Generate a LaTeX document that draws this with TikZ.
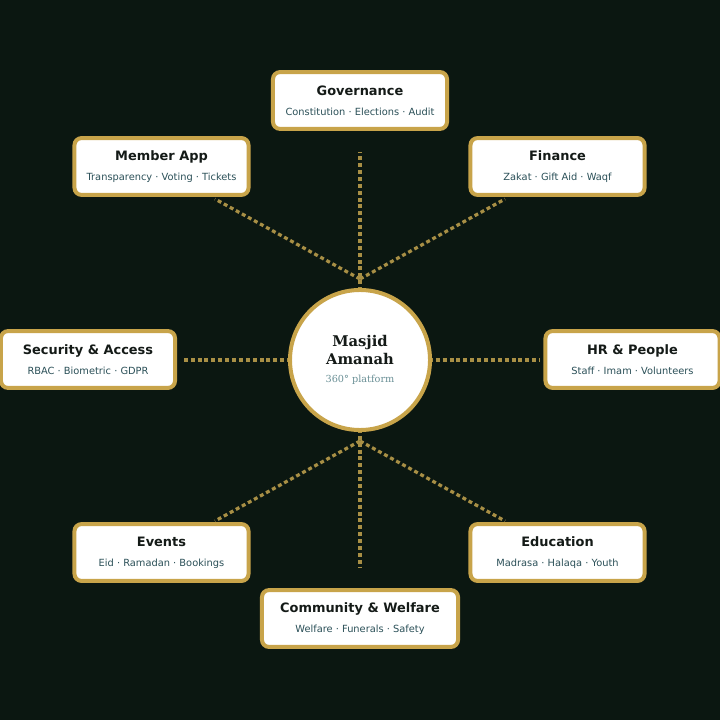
\documentclass[tikz,border=0pt]{standalone}
\usepackage{fontspec}
\setmainfont{DejaVu Sans}
\newfontfamily\hubfont{DejaVu Serif}
\usetikzlibrary{calc}

\definecolor{bg}{HTML}{0B1711}
\definecolor{gold}{HTML}{C8A44A}
\definecolor{linkgold}{HTML}{A88F45}
\definecolor{ink}{HTML}{141A17}
\definecolor{subink}{HTML}{2B5058}
\definecolor{hubsub}{HTML}{6A9096}

\newcommand{\modtext}[2]{{\fontsize{9.2}{11}\selectfont\bfseries #1}\\[2.4pt]{\fontsize{7.0}{8}\selectfont\color{subink}#2}}

\begin{document}
\begin{tikzpicture}[x=0.025cm,y=-0.025cm]
    \tikzstyle{module}=[draw=gold,line width=2.85pt,fill=white,rounded corners=5pt,
        minimum width=4.35cm,minimum height=1.42cm,align=center,text=ink,inner sep=0pt]
    \tikzstyle{link}=[linkgold,line width=2.3pt,dash pattern=on 2.8pt off 2.1pt]
    \tikzstyle{hubstyle}=[circle,draw=gold,line width=2.85pt,fill=white,
        minimum size=3.5cm,align=center,inner sep=0pt,text=ink,
        font=\hubfont\fontsize{10.5}{12.8}\selectfont\bfseries]
    % Background
    \fill[bg] (0,0) rectangle (720,720);
    \clip (0,0) rectangle (720,720);
    % Modules
    \node[module] (gov) at (360,100.5) {\modtext{Governance}{Constitution · Elections · Audit}};
    \node[module] (app) at (161.5,166.5) {\modtext{Member App}{Transparency · Voting · Tickets}};
    \node[module] (fin) at (557.5,166.5) {\modtext{Finance}{Zakat · Gift Aid · Waqf}};
    \node[module] (sec) at (88,359.5) {\modtext{Security \& Access}{RBAC · Biometric · GDPR}};
    \node[module] (hr) at (632.5,359.5) {\modtext{HR \& People}{Staff · Imam · Volunteers}};
    \node[module] (evt) at (161.5,552.5) {\modtext{Events}{Eid · Ramadan · Bookings}};
    \node[module] (edu) at (557.5,552.5) {\modtext{Education}{Madrasa · Halaqa · Youth}};
    \node[module,minimum width=4.9cm] (com) at (360,618.5) {\modtext{Community \& Welfare}{Welfare · Funerals · Safety}};
    % Link ends
    \coordinate (c) at (360,360);
    \coordinate (cTop) at (360,279);
    \coordinate (cBot) at (360,441);
    \coordinate (govEnd) at (360,152);
    \coordinate (appEnd) at (215,199);
    \coordinate (finEnd) at (505,199);
    \coordinate (secEnd) at (181,360);
    \coordinate (hrEnd) at (540,360);
    \coordinate (evtEnd) at (215,521);
    \coordinate (eduEnd) at (505,521);
    \coordinate (comEnd) at (360,568);
    % Links
    \foreach \e in {govEnd,secEnd,hrEnd,comEnd}
        \draw[link] (c) -- (\e);
    \foreach \e in {appEnd,finEnd}
        \draw[link] (cTop) -- (\e);
    \foreach \e in {evtEnd,eduEnd}
        \draw[link] (cBot) -- (\e);
    % Hub
    \node[hubstyle] (hub) at (c) {Masjid\\Amanah\\[0.5pt]{\fontsize{6.9}{8}\selectfont\mdseries\color{hubsub}360° platform}};
\end{tikzpicture}
\end{document}
